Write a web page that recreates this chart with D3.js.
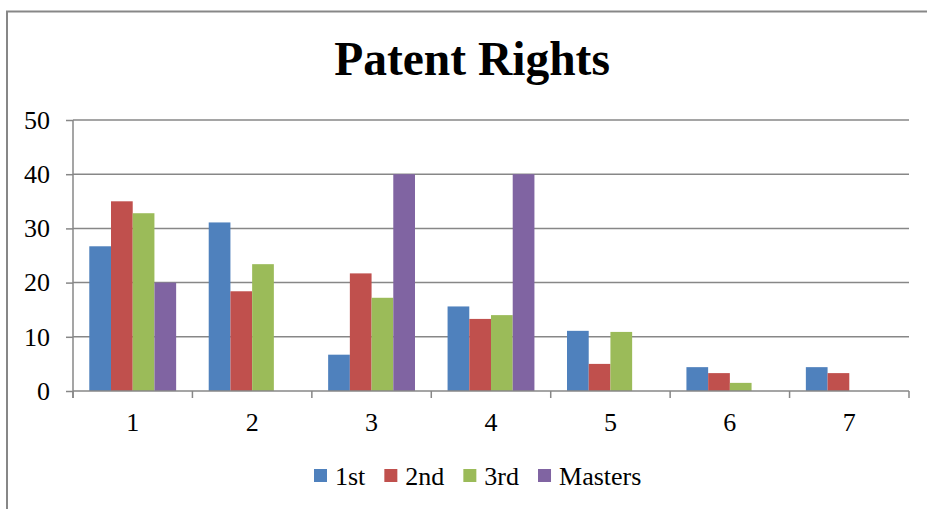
<!DOCTYPE html>
<html>
<head>
<meta charset="utf-8">
<script src="https://cdn.jsdelivr.net/npm/d3@7/dist/d3.min.js"></script>
<style>
  html, body { margin: 0; padding: 0; background: #fff; }
  svg { display: block; }
  text { font-family: "Liberation Serif", "Times New Roman", serif; fill: #000; }
</style>
</head>
<body>
<svg id="chart" width="927" height="509"></svg>
<script>
// Chart data
const categories = ["1", "2", "3", "4", "5", "6", "7"];
const seriesNames = ["1st", "2nd", "3rd", "Masters"];
const firstYear  = [26.7, 31.1, 6.7, 15.6, 11.1, 4.4, 4.4];
const secondYear = [35.0, 18.4, 21.7, 13.3, 5.0, 3.3, 3.3];
const thirdYear  = [32.8, 23.4, 17.2, 14.0, 10.9, 1.5, 0];
const masters    = [20.0, 0, 40.0, 40.0, 0, 0, 0];
const yTicks = [0, 10, 20, 30, 40, 50];
const colors = ["#4F81BD", "#C0504D", "#9BBB59", "#8064A2"];

const seriesValues = [firstYear, secondYear, thirdYear, masters];

const svg = d3.select("#chart");
const W = 927, H = 509;
const plot = { left: 73, right: 909, top: 120, bottom: 391 };
const grey = "#878787";
const labelSize = "26px";

// Outer chart frame (top and left edges visible)
svg.append("path")
  .attr("d", `M7,${H} L7,11.5 L${W},11.5`)
  .attr("fill", "none")
  .attr("stroke", grey)
  .attr("stroke-width", 2);

// Title
svg.append("text")
  .attr("x", 472)
  .attr("y", 75)
  .attr("text-anchor", "middle")
  .style("font-size", "47.5px")
  .style("font-weight", "bold")
  .text("Patent Rights");

// Scales
const x = d3.scaleBand().domain(categories).range([plot.left, plot.right]).padding(0);
const xs = d3.scaleBand().domain(seriesNames).range([0, x.bandwidth()])
  .paddingInner(0).paddingOuter(0.75);
const y = d3.scaleLinear().domain([0, 50]).range([plot.bottom, plot.top]);

// Horizontal gridlines
svg.append("g")
  .selectAll("line")
  .data(yTicks.filter(t => t > 0))
  .join("line")
  .attr("x1", plot.left).attr("x2", plot.right)
  .attr("y1", d => y(d)).attr("y2", d => y(d))
  .attr("stroke", grey).attr("stroke-width", 1.5);

// Bars
const groups = svg.append("g")
  .selectAll("g")
  .data(categories)
  .join("g")
  .attr("transform", d => `translate(${x(d)},0)`);

groups.selectAll("rect")
  .data((c, i) => seriesNames.map((s, k) => ({ s, k, v: seriesValues[k][i] })))
  .join("rect")
  .filter(d => d.v > 0)
  .attr("x", d => xs(d.s))
  .attr("width", xs.bandwidth())
  .attr("y", d => y(d.v))
  .attr("height", d => y(0) - y(d.v))
  .attr("fill", d => colors[d.k]);

// Y axis
const yAxis = svg.append("g")
  .attr("transform", `translate(${plot.left},0)`)
  .call(d3.axisLeft(y).tickValues(yTicks).tickSize(7).tickPadding(16));
yAxis.select(".domain").attr("stroke", grey).attr("stroke-width", 1.5)
  .attr("d", `M0,${plot.top}V${plot.bottom + 7}`);
yAxis.selectAll(".tick line").attr("stroke", grey).attr("stroke-width", 1.5);
yAxis.selectAll(".tick text")
  .style("font-size", labelSize)
  .style("font-family", "'Liberation Serif', 'Times New Roman', serif")
  .attr("fill", "#000");

// X axis with ticks at category boundaries
const xAxisG = svg.append("g").attr("transform", `translate(0,${plot.bottom})`);
xAxisG.append("line")
  .attr("x1", plot.left).attr("x2", plot.right)
  .attr("stroke", grey).attr("stroke-width", 1.5);
const boundaries = categories.map(c => x(c)).concat([x(categories[categories.length - 1]) + x.bandwidth()]);
xAxisG.selectAll("line.tick")
  .data(boundaries)
  .join("line")
  .attr("class", "tick")
  .attr("x1", d => d).attr("x2", d => d)
  .attr("y1", 0).attr("y2", 7)
  .attr("stroke", grey).attr("stroke-width", 1.5);
xAxisG.selectAll("text")
  .data(categories)
  .join("text")
  .attr("x", d => x(d) + x.bandwidth() / 2)
  .attr("y", 40)
  .attr("text-anchor", "middle")
  .style("font-size", labelSize)
  .text(d => d);

// Legend
const legend = svg.append("g");
let lx = 314;
seriesNames.forEach((name, k) => {
  legend.append("rect")
    .attr("x", lx).attr("y", 469)
    .attr("width", 13).attr("height", 13)
    .attr("fill", colors[k]);
  const t = legend.append("text")
    .attr("x", lx + 21)
    .attr("y", 485)
    .style("font-size", labelSize)
    .text(name);
  lx += 21 + t.node().getComputedTextLength() + 19;
});
</script>
</body>
</html>
